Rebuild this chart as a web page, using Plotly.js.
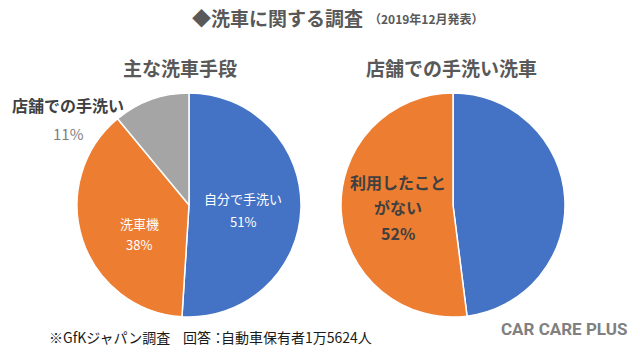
<!DOCTYPE html>
<html><head><meta charset="utf-8">
<script src="https://cdn.plot.ly/plotly-3.0.1.min.js"></script>
<style>html,body{margin:0;padding:0;background:#fff;}#chart{width:640px;height:352px;}</style>
</head><body><div id="chart"></div>
<script>
// Left pie: 主な洗車手段
const leftLabels = ["自分で手洗い", "洗車機", "店舗での手洗い"];
const leftValues = [51, 38, 11];
const leftColors = ["#4472C4", "#ED7D31", "#A5A5A5"];
// Right pie: 店舗での手洗い洗車
const rightLabels = ["利用したことがある", "利用したこと|がない"];
const rightValues = [48, 52];
const rightColors = ["#4472C4", "#ED7D31"];

const titleMain = "◆洗車に関する調査";
const titleSub = "（2019年12月発表）";
const leftTitle = "主な洗車手段";
const rightTitle = "店舗での手洗い洗車";
const footnoteParts = ["※GfKジャパン調査", "回答：", "自動車保有者1万5624人"];
const logo = "CAR CARE PLUS";

const JP = '"Noto Sans CJK JP", "Noto Sans", sans-serif';

const traces = [
  {type: "pie", labels: leftLabels, values: leftValues, sort: false, direction: "clockwise", rotation: 0,
   marker: {colors: leftColors, line: {color: "#ffffff", width: 1.5}}, textinfo: "none", hoverinfo: "none",
   domain: {x: [0.1203, 0.4703], y: [0.0994, 0.7358]}, showlegend: false},
  {type: "pie", labels: rightLabels, values: rightValues, sort: false, direction: "clockwise", rotation: 0,
   marker: {colors: rightColors, line: {color: "#ffffff", width: 1.5}}, textinfo: "none", hoverinfo: "none",
   domain: {x: [0.5328, 0.8828], y: [0.0994, 0.7358]}, showlegend: false}
];

function px(x){return x/640;}
function py(y){return 1 - y/352;}
function ann(text, x, y, xanchor, size, color, family){
  return {text: text, x: px(x), y: py(y), xanchor: xanchor, yanchor: "middle",
          font: {family: family || JP, size: size, color: color}};
}
const rl = rightLabels[1].split("|");

const annotations = [
  ann("<b>" + titleMain + "</b>", 365, 17, "right", 19, "#595959"),
  ann("<b>" + titleSub + "</b>", 367, 18, "left", 12, "#595959"),
  ann("<b>" + leftTitle + "</b>", 180, 68, "center", 19, "#595959"),
  ann("<b>" + rightTitle + "</b>", 451, 68, "center", 19, "#595959"),
  ann(leftLabels[0], 243, 198, "center", 13, "#ffffff"),
  ann(leftValues[0] + "%", 243, 221, "center", 13, "#ffffff"),
  ann(leftLabels[1], 139, 223, "center", 13, "#ffffff"),
  ann(leftValues[1] + "%", 139, 244, "center", 13, "#ffffff"),
  ann("<b>" + leftLabels[2] + "</b>", 68, 105, "center", 16, "#404040"),
  ann(leftValues[2] + "%", 68, 133, "center", 15, "#7F7F7F"),
  ann("<b>" + rl[0] + "</b>", 398, 182, "center", 16, "#404040"),
  ann("<b>" + rl[1] + "</b>", 398, 207, "center", 16, "#404040"),
  ann("<b>" + rightValues[1] + "%</b>", 398, 233, "center", 16, "#404040"),
  ann(footnoteParts[0], 47, 337, "left", 14, "#1a1a1a"),
  ann(footnoteParts[1], 181, 337, "left", 14, "#1a1a1a"),
  ann(footnoteParts[2], 219, 337, "left", 14, "#1a1a1a"),
  ann("<b>" + logo + "</b>", 629, 329, "right", 17, "#808080", '"Liberation Sans Narrow", "Roboto", sans-serif')
];
annotations.forEach(a => { a.xref = "paper"; a.yref = "paper"; a.showarrow = false; });

const layout = {
  width: 640, height: 352,
  margin: {l: 0, r: 0, t: 0, b: 0},
  paper_bgcolor: "#ffffff", plot_bgcolor: "#ffffff",
  showlegend: false,
  annotations: annotations
};
Plotly.newPlot("chart", traces, layout, {displayModeBar: false, staticPlot: true});
</script></body></html>
